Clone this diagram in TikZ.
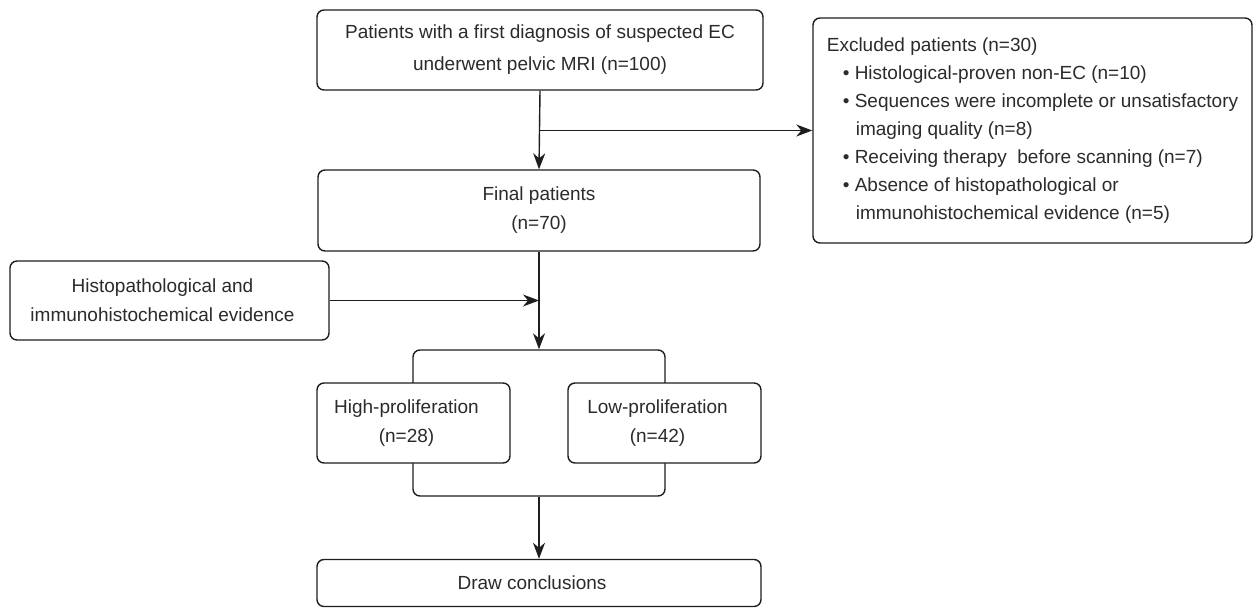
\documentclass[tikz,border=0pt]{standalone}
\usepackage{fontspec}
\setmainfont{Liberation Sans}
\usetikzlibrary{arrows.meta}
\definecolor{txt}{HTML}{2B2B2B}
\definecolor{ln}{HTML}{1E1E1E}
\begin{document}
\begin{tikzpicture}[x=1pt,y=-1pt,
  box/.style={draw=ln, line width=1.4pt, rounded corners=7pt, fill=white,
    inner sep=0pt, align=center, text=txt,
    font=\fontsize{19}{29}\selectfont},
  arr/.style={draw=ln, line width=1.4pt,
    -{Stealth[length=16pt,width=12pt,inset=5pt]}}]
\useasboundingbox (0,0) rectangle (1254,608);

\node[box, minimum width=446pt, minimum height=80pt,
  font=\fontsize{19}{32}\selectfont] (top) at (540,50)
  {Patients with a first diagnosis of suspected EC\\underwent pelvic MRI (n=100)};

\node[box, minimum width=439pt, minimum height=225pt, align=left,
  font=\fontsize{19}{28}\selectfont] (exc) at (1032.5,130.5)
  {Excluded patients (n=30)\\
   \hspace*{16pt}\textbullet\ Histological-proven non-EC (n=10)\\
   \hspace*{16pt}\textbullet\ Sequences were incomplete or unsatisfactory\\
   \hspace*{29pt}imaging quality (n=8)\\
   \hspace*{16pt}\textbullet\ Receiving therapy\ \ before scanning (n=7)\\
   \hspace*{16pt}\textbullet\ Absence of histopathological or\\
   \hspace*{29pt}immunohistochemical evidence (n=5)};

\node[box, minimum width=442pt, minimum height=81pt] (final) at (539,210.5)
  {Final patients\\(n=70)};

\node[box, minimum width=319pt, minimum height=79pt] (hist) at (169.5,300.5)
  {\hspace*{-14pt}Histopathological and\\\hspace*{-14pt}immunohistochemical evidence};

\node[box, minimum width=252pt, minimum height=146pt] (grp) at (539,423) {};

\node[box, minimum width=193pt, minimum height=80pt] (high) at (413.5,423)
  {\hspace*{-14pt}High-proliferation\\\hspace*{-14pt}(n=28)};
\node[box, minimum width=193pt, minimum height=80pt] (low) at (664.5,423)
  {\hspace*{-14pt}Low-proliferation\\\hspace*{-14pt}(n=42)};

\node[box, minimum width=444pt, minimum height=47pt] (concl) at (539,583)
  {\hspace*{-14pt}Draw conclusions};

\coordinate (br) at (top.south |- exc.west);
\coordinate (mg) at (final.south |- hist.east);
\draw[arr] (top.south) -- (final.north);
\draw[arr] (br) -- (exc.west);
\draw[arr] (hist.east) -- (mg);
\draw[arr] (final.south) -- (grp.north);
\draw[arr] (grp.south) -- (concl.north);
\end{tikzpicture}
\end{document}
